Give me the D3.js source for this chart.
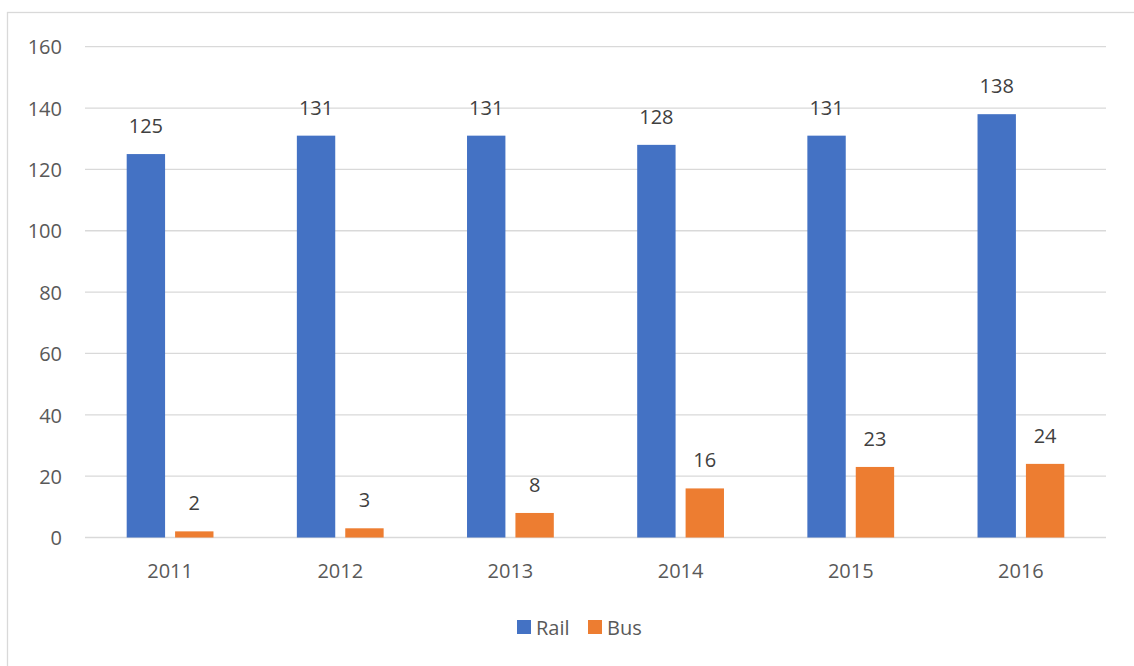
<!DOCTYPE html>
<html>
<head>
<meta charset="utf-8">
<script src="https://cdn.jsdelivr.net/npm/d3@7"></script>
<style>
  html, body { margin: 0; padding: 0; background: #fff; }
  svg { display: block; font-family: "Open Sans", "Liberation Sans", sans-serif; }
</style>
</head>
<body>
<svg id="chart" width="1134" height="666"></svg>
<script>
const years = ["2011", "2012", "2013", "2014", "2015", "2016"];
const seriesNames = ["Rail", "Bus"];
const railValues = [125, 131, 131, 128, 131, 138];
const busValues = [2, 3, 8, 16, 23, 24];
const yTicks = [0, 20, 40, 60, 80, 100, 120, 140, 160];
const colors = ["#4472C4", "#ED7D31"];

const svg = d3.select("#chart");
const W = 1134, H = 666;
const plot = { left: 85, right: 1106, top: 46.7, bottom: 537.5 };

// outer border
svg.append("rect")
  .attr("x", 7.5).attr("y", 12.5)
  .attr("width", W + 20).attr("height", H + 20)
  .attr("fill", "#fff").attr("stroke", "#D9D9D9").attr("stroke-width", 1.3);

const x0 = d3.scaleBand().domain(years).range([plot.left, plot.right])
  .paddingInner(0.49).paddingOuter(0.245);
const x1 = d3.scaleBand().domain(seriesNames).range([0, x0.bandwidth()])
  .paddingInner(0.207).paddingOuter(0);
const y = d3.scaleLinear().domain([0, 160]).range([plot.bottom, plot.top]);

// gridlines
svg.append("g").selectAll("line").data(yTicks).join("line")
  .attr("x1", plot.left).attr("x2", plot.right)
  .attr("y1", d => y(d)).attr("y2", d => y(d))
  .attr("stroke", "#D9D9D9").attr("stroke-width", 1.3);

// y axis labels
const yAxis = d3.axisLeft(y).tickValues(yTicks).tickSize(0).tickPadding(0);
const gy = svg.append("g").attr("transform", `translate(62,0)`).call(yAxis);
gy.select(".domain").remove();
gy.selectAll("text")
  .attr("font-family", "'Open Sans', 'Liberation Sans', sans-serif")
  .attr("font-size", 20).attr("fill", "#595959").attr("dy", "0.36em");

// x axis labels
const xAxis = d3.axisBottom(x0).tickSize(0).tickPadding(0);
const gx = svg.append("g").attr("transform", `translate(0,${plot.bottom})`).call(xAxis);
gx.select(".domain").remove();
gx.selectAll("text")
  .attr("font-family", "'Open Sans', 'Liberation Sans', sans-serif")
  .attr("font-size", 20).attr("fill", "#595959")
  .attr("dy", 0).attr("y", 40.5);

const data = years.map((yr, i) => ({ year: yr, values: [railValues[i], busValues[i]] }));

const groups = svg.append("g").selectAll("g").data(data).join("g")
  .attr("transform", d => `translate(${x0(d.year)},0)`);

groups.selectAll("rect").data(d => d.values.map((v, j) => ({ key: seriesNames[j], v, j })))
  .join("rect")
  .attr("x", d => x1(d.key))
  .attr("width", x1.bandwidth())
  .attr("y", d => y(d.v))
  .attr("height", d => y(0) - y(d.v))
  .attr("fill", d => colors[d.j]);

groups.selectAll("text").data(d => d.values.map((v, j) => ({ key: seriesNames[j], v, j })))
  .join("text")
  .attr("x", d => x1(d.key) + x1.bandwidth() / 2)
  .attr("y", d => y(d.v) - 21)
  .attr("text-anchor", "middle")
  .attr("font-size", 20).attr("fill", "#404040")
  .text(d => d.v);

// legend
const legend = svg.append("g");
const legendItems = [
  { name: "Rail", sx: 517, tx: 536 },
  { name: "Bus", sx: 588, tx: 607 }
];
legendItems.forEach((it, i) => {
  legend.append("rect").attr("x", it.sx).attr("y", 620)
    .attr("width", 14).attr("height", 14).attr("fill", colors[i]);
  legend.append("text").attr("x", it.tx).attr("y", 635)
    .attr("font-size", 20).attr("fill", "#595959").text(it.name);
});
</script>
</body>
</html>
